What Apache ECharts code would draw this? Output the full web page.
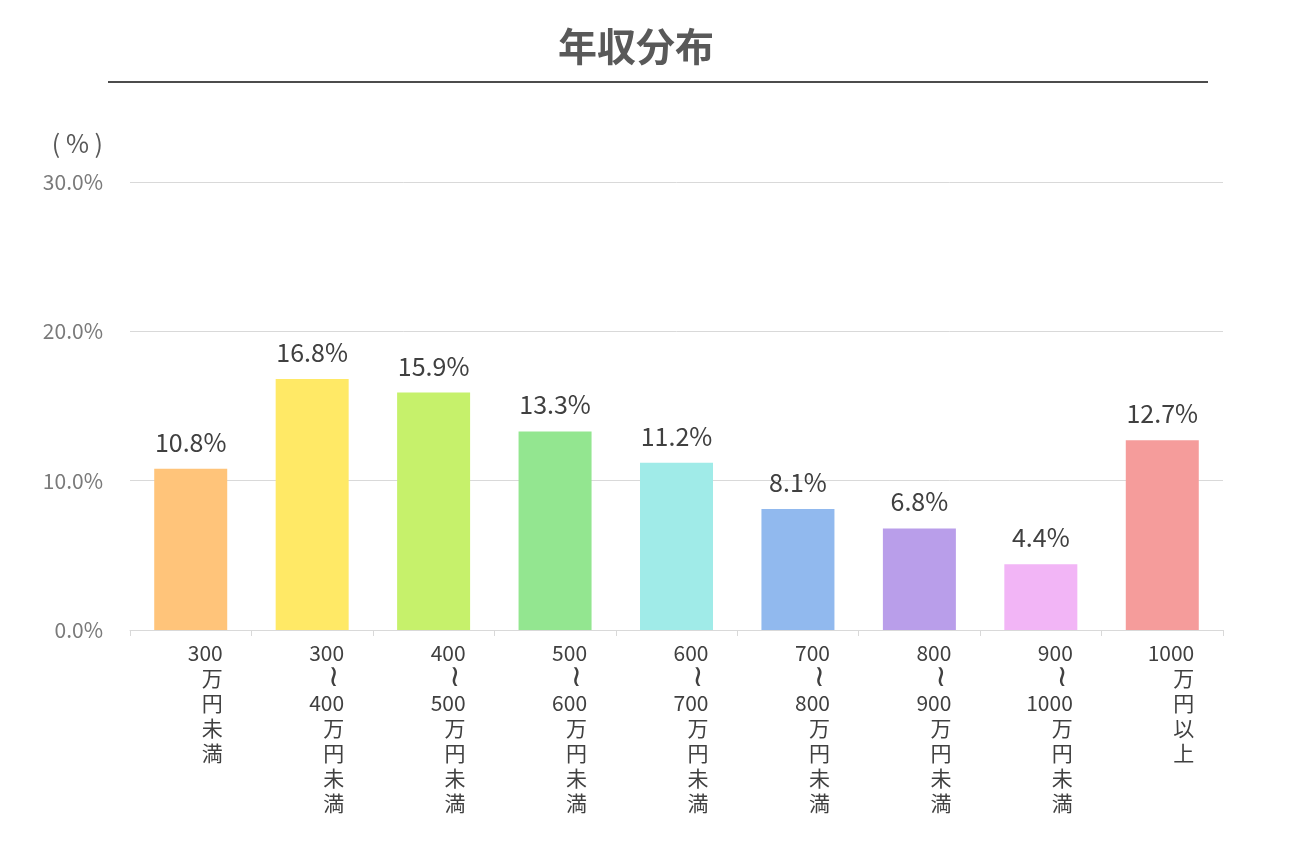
<!DOCTYPE html>
<html>
<head>
<meta charset="utf-8">
<script src="https://cdn.jsdelivr.net/npm/echarts@6/dist/echarts.min.js"></script>
<style>
html,body{margin:0;padding:0;background:#fff;}
#chart{width:1308px;height:866px;}
</style>
</head>
<body>
<div id="chart"></div>
<script>
// Data
var categoryLabels = [
  ['300', '万', '円', '未', '満'],
  ['300', '≀', '400', '万', '円', '未', '満'],
  ['400', '≀', '500', '万', '円', '未', '満'],
  ['500', '≀', '600', '万', '円', '未', '満'],
  ['600', '≀', '700', '万', '円', '未', '満'],
  ['700', '≀', '800', '万', '円', '未', '満'],
  ['800', '≀', '900', '万', '円', '未', '満'],
  ['900', '≀', '1000', '万', '円', '未', '満'],
  ['1000', '万', '円', '以', '上']
];
var categories = ['300万円未満','300~400万円未満','400~500万円未満','500~600万円未満','600~700万円未満','700~800万円未満','800~900万円未満','900~1000万円未満','1000万円以上'];
var values = [10.8, 16.8, 15.9, 13.3, 11.2, 8.1, 6.8, 4.4, 12.7];
var barColors = ['#FFC47A', '#FFE966', '#C6F16B', '#93E690', '#A0EBE8', '#91B9EE', '#B99EEA', '#F2B5F6', '#F59C9B'];
var yTicks = [0, 10, 20, 30];

var chart = echarts.init(document.getElementById('chart'));
var option = {
  backgroundColor: '#ffffff',
  animation: false,
  title: {
    text: '年収分布',
    left: 553,
    top: 22,
    textStyle: {
      fontFamily: 'Noto Sans CJK JP',
      fontSize: 39,
      fontWeight: 'bold',
      color: '#595959'
    }
  },
  graphic: [{
    type: 'line',
    shape: { x1: 108, y1: 82, x2: 1208, y2: 82 },
    style: { stroke: '#111111', lineWidth: 1.5 }
  }],
  grid: { left: 130, right: 85, top: 182, bottom: 236, containLabel: false },
  xAxis: {
    type: 'category',
    data: categories,
    axisLine: { lineStyle: { color: '#d9d9d9', width: 1 } },
    axisTick: { show: true, length: 6, lineStyle: { color: '#d9d9d9' } },
    axisLabel: {
      interval: 0,
      margin: 11,
      width: 64,
      overflow: 'none',
      align: 'center',
      verticalAlign: 'top',
      formatter: function (v, i) {
        return categoryLabels[i].map(function (s) {
          return (s === '≀' ? '{w|' : '{r|') + s + '}';
        }).join('\n');
      },
      rich: {
        r: {
          align: 'right',
          fontFamily: 'Noto Sans CJK JP',
          fontSize: 21,
          lineHeight: 25,
          color: '#404040'
        },
        w: {
          align: 'right',
          padding: [0, 5, 0, 0],
          fontFamily: 'DejaVu Sans',
          fontSize: 30,
          lineHeight: 25,
          color: '#404040'
        }
      }
    }
  },
  yAxis: {
    type: 'value',
    min: 0,
    max: 30,
    interval: 10,
    name: '( % )',
    nameLocation: 'end',
    nameGap: 39,
    nameTextStyle: {
      align: 'right',
      verticalAlign: 'middle',
      padding: [0, 27, 0, 0],
      fontFamily: 'Noto Sans CJK JP',
      fontSize: 25,
      color: '#595959'
    },
    axisLine: { show: false },
    axisTick: { show: false },
    splitLine: { lineStyle: { color: '#d9d9d9', width: 1 } },
    axisLabel: {
      margin: 27,
      fontFamily: 'Noto Sans CJK JP',
      fontSize: 21,
      color: '#7a7a7a',
      formatter: function (v) { return v.toFixed(1) + '%'; }
    }
  },
  series: [{
    type: 'bar',
    barWidth: 73,
    data: values.map(function (v, i) {
      return { value: v, itemStyle: { color: barColors[i] } };
    }),
    label: {
      show: true,
      position: 'top',
      distance: 14,
      fontFamily: 'Noto Sans CJK JP',
      fontSize: 25,
      color: '#404040',
      formatter: function (p) { return p.value.toFixed(1) + '%'; }
    }
  }]
};
chart.setOption(option);
</script>
</body>
</html>
